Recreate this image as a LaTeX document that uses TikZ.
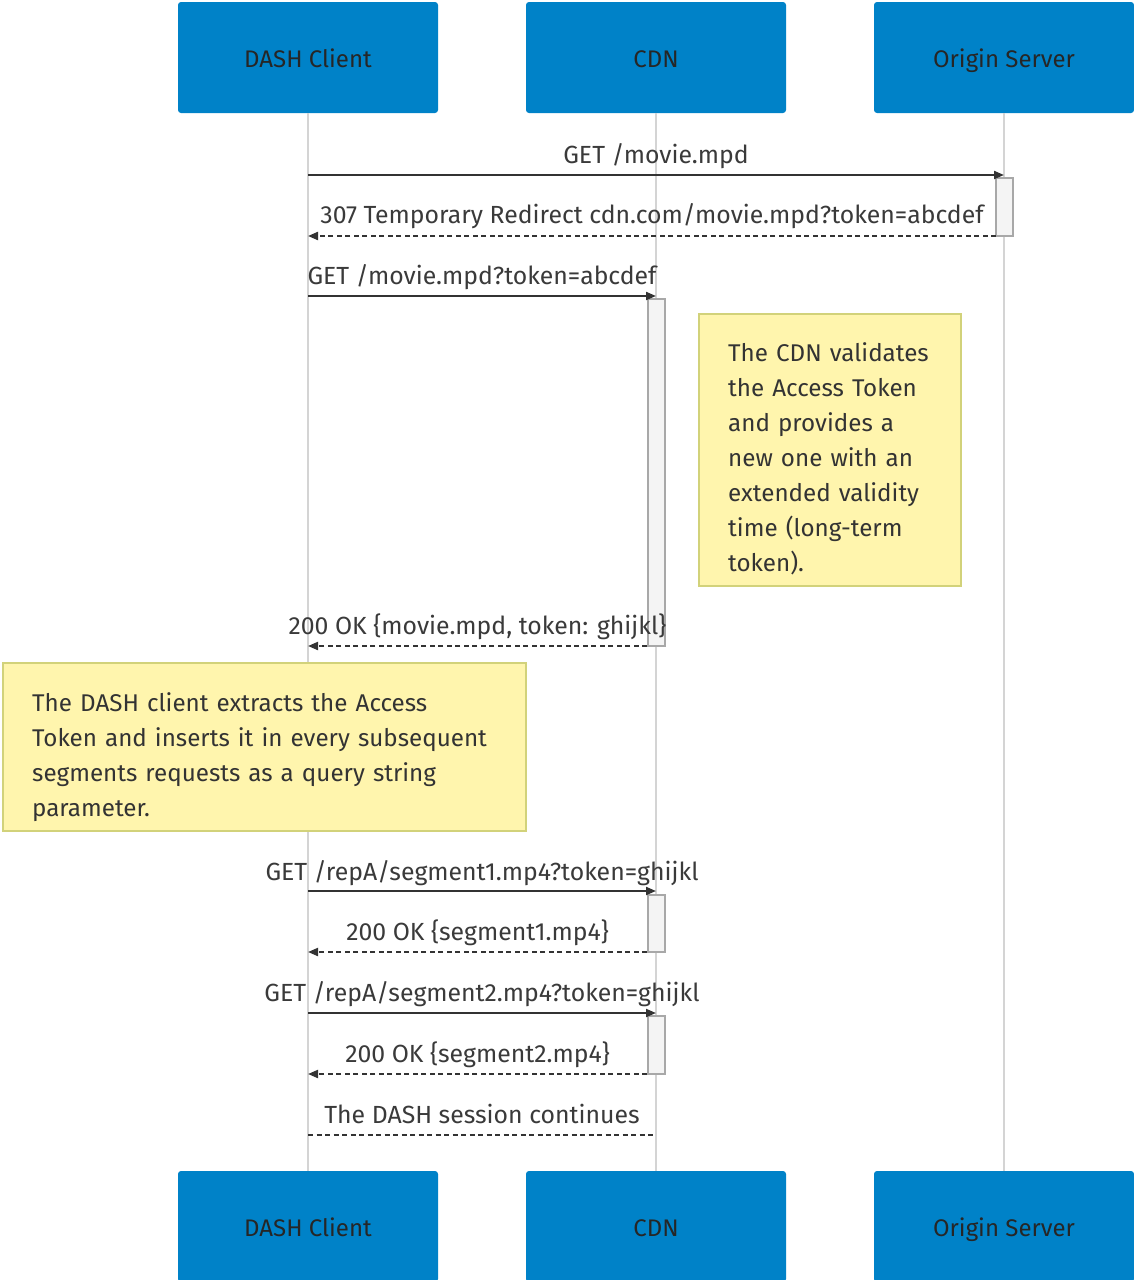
\documentclass[tikz,border=0pt]{standalone}
\usepackage{fontspec}
\setmainfont{Fira Sans}
\usetikzlibrary{arrows.meta}
\definecolor{actorblue}{HTML}{0082C8}
\definecolor{notefill}{HTML}{FFF5AD}
\definecolor{noteborder}{HTML}{D2D27A}
\definecolor{lifegray}{HTML}{D4D4D4}
\definecolor{msgtext}{HTML}{3A3A3A}
\definecolor{msgline}{HTML}{333333}
\definecolor{actgray}{HTML}{A8A8A8}
\definecolor{actfill}{HTML}{F4F4F4}
\begin{document}
\begin{tikzpicture}[x=1pt,y=-1pt,
  actor/.style={fill=actorblue, rounded corners=3pt, minimum width=260pt, minimum height=111pt, inner sep=0pt, font=\fontsize{24}{28}\selectfont, text=black!85, text height=21pt, text depth=1pt},
  lifeline/.style={draw=lifegray, line width=2pt},
  actbox/.style={draw=actgray, fill=actfill, line width=2pt, minimum width=17pt, inner sep=0pt},
  msg/.style={draw=msgline, line width=2pt, -{Triangle[length=10pt,width=8pt]}},
  reply/.style={msg, dash pattern=on 5pt off 3.5pt},
  dots/.style={draw=msgline, line width=2pt, dash pattern=on 5pt off 3.5pt},
  lbl/.style={font=\fontsize{24.8}{28}\selectfont, text=msgtext, anchor=base, inner sep=0pt},
  notebox/.style={fill=notefill, draw=noteborder, line width=2pt, inner sep=0pt},
  notetext/.style={font=\fontsize{24.2}{35}\selectfont, text=black!80, anchor=base west, inner sep=0pt, align=left}
]
\useasboundingbox (0,0) rectangle (1133,1280);
\fill[white] (0,0) rectangle (1133,1280);

% actors
\node[actor] (a1) at (308,57.5) {DASH Client};
\node[actor] (a2) at (656,57.5) {CDN};
\node[actor] (a3) at (1004,57.5) {Origin Server};
\node[actor] (b1) at (308,1226.5) {DASH Client};
\node[actor] (b2) at (656,1226.5) {CDN};
\node[actor] (b3) at (1004,1226.5) {Origin Server};

% lifelines
\draw[lifeline] (a1.south) -- (b1.north);
\draw[lifeline] (a2.south) -- (b2.north);
\draw[lifeline] (a3.south) -- (b3.north);

% activations
\node[actbox, minimum height=58pt] (act1) at (1004.5,207) {};
\node[actbox, minimum height=347pt] (act2) at (656,472.5) {};
\node[actbox, minimum height=57pt] (act3) at (656,923.5) {};
\node[actbox, minimum height=58pt] (act4) at (656,1045) {};

% notes
\node[notebox, minimum width=262pt, minimum height=272pt] (n1) at (830,450) {};
\node[notetext, text width=240pt] (n1t) at (728,361) {The CDN validates\\the Access Token\\and provides a\\new one with an\\extended validity\\time (long-term\\token).};
\node[notebox, minimum width=523pt, minimum height=168pt] (n2) at (264.5,747) {};
\node[notetext, text width=490pt] (n2t) at (32,711) {The DASH client extracts the Access\\Token and inserts it in every subsequent\\segments requests as a query string\\parameter.};

% message end points
\coordinate (m1a) at (308,175);  \coordinate (m1b) at (1004,175);
\coordinate (m2a) at (996,236);  \coordinate (m2b) at (308,236);
\coordinate (m3a) at (308,296);  \coordinate (m3b) at (656,296);
\coordinate (m4a) at (647,646);  \coordinate (m4b) at (308,646);
\coordinate (m5a) at (308,891);  \coordinate (m5b) at (656,891);
\coordinate (m6a) at (647,952);  \coordinate (m6b) at (308,952);
\coordinate (m7a) at (308,1013); \coordinate (m7b) at (656,1013);
\coordinate (m8a) at (647,1074); \coordinate (m8b) at (308,1074);
\coordinate (m9a) at (308,1135); \coordinate (m9b) at (656,1135);

\draw[msg] (m1a) -- (m1b) node[lbl, midway, yshift=12pt] (l1) {GET /movie.mpd};
\draw[reply] (m2a) -- (m2b) node[lbl, midway, yshift=13pt] (l2) {307 Temporary Redirect cdn.com/movie.mpd?token=abcdef};
\draw[msg] (m3a) -- (m3b) node[lbl, midway, yshift=12pt] (l3) {GET /movie.mpd?token=abcdef};
\draw[reply] (m4a) -- (m4b) node[lbl, midway, yshift=12pt] (l4) {200 OK \{movie.mpd, token: ghijkl\}};
\draw[msg] (m5a) -- (m5b) node[lbl, midway, yshift=11pt] (l5) {GET /repA/segment1.mp4?token=ghijkl};
\draw[reply] (m6a) -- (m6b) node[lbl, midway, yshift=12pt] (l6) {200 OK \{segment1.mp4\}};
\draw[msg] (m7a) -- (m7b) node[lbl, midway, yshift=12pt] (l7) {GET /repA/segment2.mp4?token=ghijkl};
\draw[reply] (m8a) -- (m8b) node[lbl, midway, yshift=12pt] (l8) {200 OK \{segment2.mp4\}};
\draw[dots] (m9a) -- (m9b) node[lbl, midway, yshift=12pt] (l9) {The DASH session continues};
\end{tikzpicture}
\end{document}
